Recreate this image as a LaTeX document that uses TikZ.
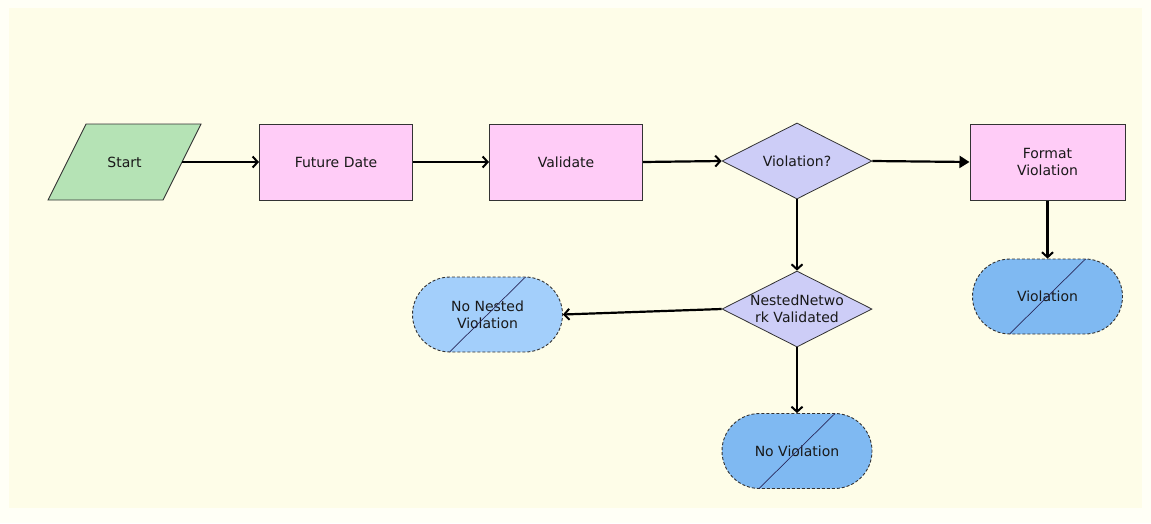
\documentclass[tikz,border=0pt]{standalone}
\usepackage{fontspec}
\setmainfont{DejaVu Sans}
\usetikzlibrary{shapes.geometric,shapes.misc,arrows.meta,calc}
\definecolor{pagebg}{HTML}{FFFFF6}
\definecolor{canvas}{HTML}{FEFDE8}
\definecolor{startfill}{HTML}{B5E3B5}
\definecolor{taskfill}{HTML}{FFCCF7}
\definecolor{decfill}{HTML}{CDCDF7}
\definecolor{lightend}{HTML}{A3CFFB}
\definecolor{midend}{HTML}{7FB9F2}
\definecolor{edge}{HTML}{333333}
\tikzset{
  every node/.style={font=\fontsize{14}{17}\selectfont, text=black!90, inner sep=0pt},
  taskbox/.style={draw=edge, line width=1pt, fill=taskfill, minimum width=153pt, minimum height=76pt, align=center},
  decbox/.style={diamond, aspect=2, draw=edge, line width=0.8pt, fill=decfill, minimum width=150pt, minimum height=76pt, align=center},
  endbox/.style={rounded rectangle, draw=edge, line width=0.9pt, densely dashed, minimum width=150pt, minimum height=75pt, align=center},
  flow/.style={line width=2.2pt, -{Straight Barb[length=5pt,width=11pt,line width=2pt]}},
  flowsolid/.style={line width=2.2pt, -{Triangle[length=10pt,width=12pt]}},
  slash/.style={line width=0.7pt, draw=edge!80!blue, solid}
}
\begin{document}
\begin{tikzpicture}[x=1pt,y=-1pt]
\useasboundingbox (0,0) rectangle (1151,523);
\fill[pagebg] (0,0) rectangle (1151,523);
\fill[canvas] (9,8) rectangle (1142,508);

% Start parallelogram
\draw[edge, line width=0.9pt, fill=startfill] (86,124) -- (201,124) -- (163,200) -- (48,200) -- cycle;
\node (start) at (124.5,162) {Start};
\coordinate (startr) at (182,162);

\node[taskbox] (future) at (336,162) {Future Date};
\node[taskbox] (validate) at (566,162) {Validate};
\node[decbox] (viol) at (797,161) {Violation?};
\node[taskbox, minimum width=155pt] (format) at (1047.5,162) {Format\\Violation};
\node[endbox, fill=midend] (violend) at (1047.5,296.5) {Violation};
\node[decbox] (nested) at (797,309) {NestedNetwo\\rk Validated};
\node[endbox, fill=lightend] (nonested) at (487.5,314.5) {No Nested\\Violation};
\node[endbox, fill=midend] (noviol) at (797,451) {No Violation};

\draw[slash] ($(violend.center)+(-38pt,-37.5pt)$) -- ($(violend.center)+(38pt,37.5pt)$);
\draw[slash] ($(nonested.center)+(-38pt,-37.5pt)$) -- ($(nonested.center)+(38pt,37.5pt)$);
\draw[slash] ($(noviol.center)+(-38pt,-37.5pt)$) -- ($(noviol.center)+(38pt,37.5pt)$);

\draw[flow] (startr) -- (future.west);
\draw[flow] (future.east) -- (validate.west);
\draw[flow] (validate.east) -- (viol.west);
\draw[flowsolid] (viol.east) -- (format.west);
\draw[flow] (viol.south) -- (nested.north);
\draw[flow] (format.south) -- (violend.north);
\draw[flow] (nested.west) -- (nonested.east);
\draw[flow] (nested.south) -- (noviol.north);
\end{tikzpicture}
\end{document}
